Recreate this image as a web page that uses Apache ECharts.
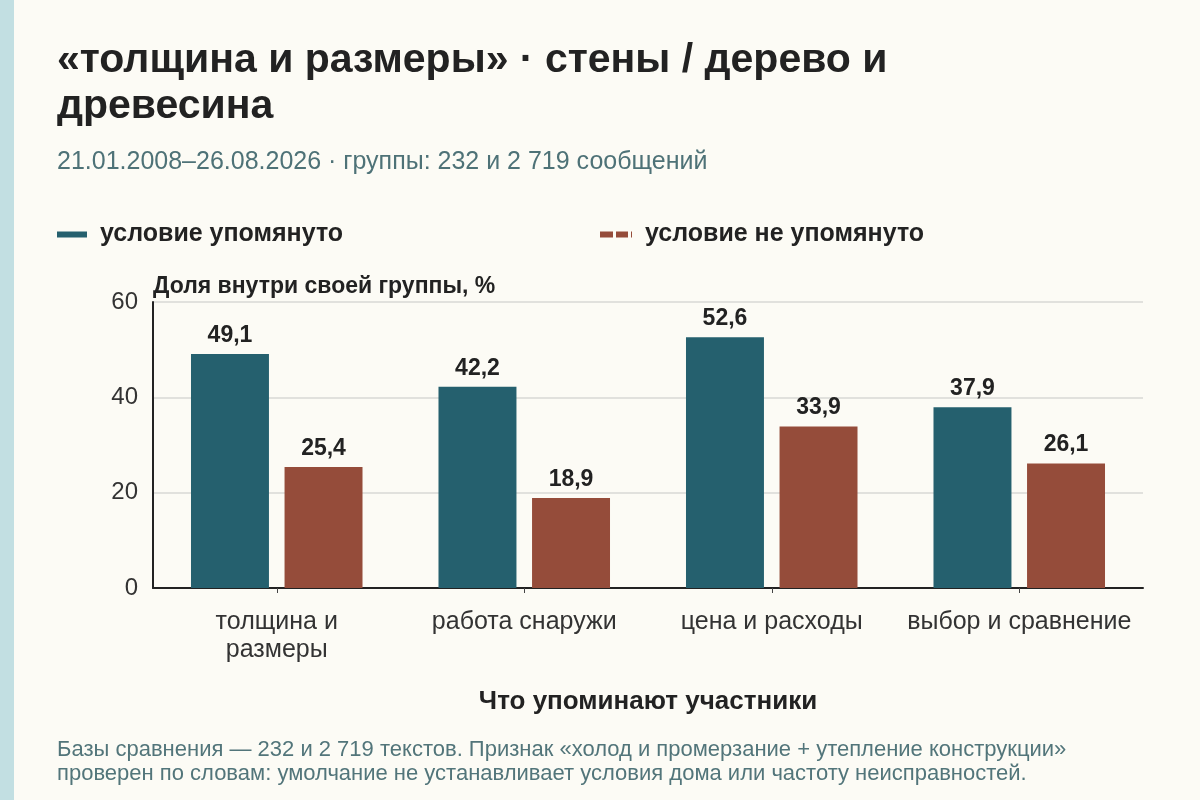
<!DOCTYPE html>
<html>
<head>
<meta charset="utf-8">
<script src="https://cdn.jsdelivr.net/npm/echarts@6/dist/echarts.min.js"></script>
<style>
html,body{margin:0;padding:0;background:#fcfbf5;}
#chart{width:1200px;height:800px;}
</style>
</head>
<body>
<div id="chart"></div>
<script>
const categories = ['толщина и\nразмеры', 'работа снаружи', 'цена и расходы', 'выбор и сравнение'];
const mentioned = [49.1, 42.2, 52.6, 37.9];
const notMentioned = [25.4, 18.9, 33.9, 26.1];
const seriesNames = ['условие упомянуто', 'условие не упомянуто'];
const yTicks = { min: 0, max: 60, interval: 20 };

const FONT = '"Liberation Sans", Arial, sans-serif';
const chart = echarts.init(document.getElementById('chart'));
const fmt = v => String(v).replace('.', ',');

chart.setOption({
  backgroundColor: '#fcfbf5',
  textStyle: { fontFamily: FONT },
  graphic: [
    { type: 'rect', left: 0, top: 0, shape: { width: 14, height: 800 }, style: { fill: '#c2dfe2' }, silent: true },
    { type: 'text', left: 57, top: 38, style: { text: '«толщина и размеры» · стены / дерево и\nдревесина', font: 'bold 41px ' + FONT, fill: '#222222', lineHeight: 46 } },
    { type: 'text', left: 57, top: 150, style: { text: '21.01.2008–26.08.2026 · группы: 232 и 2 719 сообщений', font: '25px ' + FONT, fill: '#4e7277' } },
    { type: 'text', left: 57, top: 738, style: { text: 'Базы сравнения — 232 и 2 719 текстов. Признак «холод и промерзание + утепление конструкции»\nпроверен по словам: умолчание не устанавливает условия дома или частоту неисправностей.', font: '22px ' + FONT, fill: '#52757a', lineHeight: 24 } }
  ],
  legend: [
    {
      data: [{ name: seriesNames[0], icon: 'rect' }],
      left: 57, top: 222, padding: 0,
      itemWidth: 30, itemHeight: 6,
      textStyle: { fontSize: 25, fontWeight: 'bold', color: '#222', fontFamily: FONT, padding: [0, 0, 0, 8] },
      selectedMode: false
    },
    {
      data: [{ name: seriesNames[1], icon: 'path://M0,0H13V6H0Z M16,0H28V6H16Z M31,0H32V6H31Z' }],
      left: 600, top: 222, padding: 0,
      itemWidth: 32, itemHeight: 6,
      textStyle: { fontSize: 25, fontWeight: 'bold', color: '#222', fontFamily: FONT, padding: [0, 0, 0, 8] },
      selectedMode: false
    }
  ],
  grid: { left: 153, right: 57, top: 302, bottom: 212, containLabel: false },
  xAxis: {
    type: 'category',
    data: categories,
    name: 'Что упоминают участники',
    nameLocation: 'middle',
    nameGap: 101,
    nameTextStyle: { fontSize: 26, fontWeight: 'bold', color: '#222', fontFamily: FONT },
    axisLine: { lineStyle: { color: '#222', width: 2 } },
    axisTick: { show: true, alignWithLabel: true, length: 5, lineStyle: { color: '#444' } },
    axisLabel: { fontSize: 25, color: '#333', margin: 20, lineHeight: 28, fontFamily: FONT, interval: 0 }
  },
  yAxis: {
    type: 'value',
    min: yTicks.min, max: yTicks.max, interval: yTicks.interval,
    name: 'Доля внутри своей группы, %',
    nameLocation: 'end',
    nameGap: 4,
    nameTextStyle: { fontSize: 23, fontWeight: 'bold', color: '#222', align: 'left', fontFamily: FONT },
    axisLine: { show: true, lineStyle: { color: '#222', width: 2 } },
    axisTick: { show: false },
    axisLabel: { fontSize: 24, color: '#333', margin: 15, fontFamily: FONT },
    splitLine: { lineStyle: { color: '#d8d8d4', width: 1.5 } }
  },
  series: [
    {
      name: seriesNames[0], type: 'bar', data: mentioned,
      barWidth: '31.5%', barGap: '20%',
      itemStyle: { color: '#25606e' },
      label: { show: true, position: 'top', distance: 7, formatter: p => fmt(p.value), fontSize: 23, fontWeight: 'bold', color: '#222', fontFamily: FONT }
    },
    {
      name: seriesNames[1], type: 'bar', data: notMentioned,
      barWidth: '31.5%', barGap: '20%',
      itemStyle: { color: '#954c3a' },
      label: { show: true, position: 'top', distance: 7, formatter: p => fmt(p.value), fontSize: 23, fontWeight: 'bold', color: '#222', fontFamily: FONT }
    }
  ]
});
</script>
</body>
</html>
